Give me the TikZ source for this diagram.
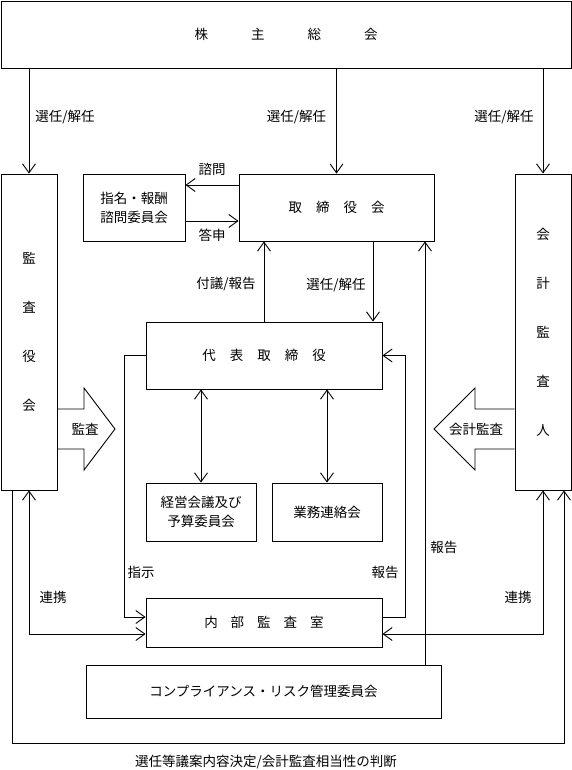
\documentclass[tikz,border=0pt]{standalone}
\usepackage{fontspec}
\setmainfont{Noto Sans CJK JP}
\usetikzlibrary{arrows.meta}

\tikzset{
  box/.style={draw, inner sep=0pt, align=center, font=\fontsize{13.5}{19}\selectfont},
  vbox/.style={box, minimum width=56pt, minimum height=316pt, font=\fontsize{13.5}{49}\selectfont},
  arr/.style={-{Straight Barb[length=9pt,width=13pt]}},
  darr/.style={{Straight Barb[length=9pt,width=13pt]}-{Straight Barb[length=9pt,width=13pt]}},
  lbl/.style={inner sep=0pt, font=\fontsize{13.5}{19}\selectfont},
}

\begin{document}
\begin{tikzpicture}[x=1pt,y=-1pt,line width=0.9pt]
	\useasboundingbox (0,0) rectangle (572,770);
	
	\node[box, minimum width=570pt, minimum height=67pt] (gm) at (286,34.5) {株\hspace{43pt}主\hspace{43pt}総\hspace{43pt}会};
	
	\node[vbox] (kansa) at (29,332) {監\\査\\役\\会};
	\node[vbox] (kaikei) at (543,332) {会\\計\\監\\査\\人};
	
	\node[box, minimum width=102pt, minimum height=67pt] (shimei) at (134,207.5) {指名・報酬\\諮問委員会};
	\node[box, minimum width=195pt, minimum height=67pt] (board) at (336.5,207.5) {取\hspace{14pt}締\hspace{14pt}役\hspace{14pt}会};
	
	\node[box, minimum width=236pt, minimum height=67pt] (ceo) at (264,355.5) {代\hspace{14pt}表\hspace{14pt}取\hspace{14pt}締\hspace{14pt}役};
	
	\node[box, minimum width=110pt, minimum height=58pt] (keiei) at (201,512) {経営会議及び\\予算委員会};
	\node[box, minimum width=110pt, minimum height=58pt] (gyomu) at (327,512) {業務連絡会};
	
	\node[box, minimum width=236pt, minimum height=49pt] (naibu) at (264,622.5) {内\hspace{13pt}部\hspace{13pt}監\hspace{13pt}査\hspace{13pt}室};
	\node[box, minimum width=355pt, minimum height=53pt] (comp) at (263.5,691.5) {コンプライアンス・リスク管理委員会};
	
	\draw[arr] (kansa.north |- gm.south) -- node[lbl, pos=0.46, right=6pt] {選任/解任} (kansa.north);
	\draw[arr] (board.north |- gm.south) -- node[lbl, pos=0.46, left=10pt] {選任/解任} (board.north);
	\draw[arr] (kaikei.north |- gm.south) -- node[lbl, pos=0.46, left=9pt] {選任/解任} (kaikei.north);
	
	\draw[arr] (board.west |- 0,185) -- node[lbl, above=9pt] {諮問} (shimei.east |- 0,185);
	\draw[arr] (shimei.east |- 0,221) -- node[lbl, below=8pt] {答申} (board.west |- 0,221);
	
	\draw[arr] (ceo.north) -- node[lbl, pos=0.47, left=8pt] {付議/報告} (ceo.north |- board.south);
	\draw[arr] (board.south -| 373,0) -- node[lbl, pos=0.54, left=7pt] {選任/解任} (ceo.north -| 373,0);
	\draw[arr] (comp.north -| 425,0) -- node[lbl, pos=0.276, right=5pt] {報告} (board.south -| 425,0);
	
	\draw[darr] (ceo.south -| keiei.north) -- (keiei.north);
	\draw[darr] (ceo.south -| gyomu.north) -- (gyomu.north);
	
	\draw[arr] (ceo.west) -- (124,355.5) -- (124,617) -- (naibu.west |- 0,617);
	\draw[arr] (naibu.east |- 0,617) -- (405,617) -- (405,355.5) -- (ceo.east);
	\node[lbl] (shiji) at (141,572) {指示};
	\node[lbl] (hokoku) at (385,572) {報告};
	
	\draw[darr] (kansa.south) |- (naibu.west |- 0,634);
	\draw[darr] (kaikei.south) |- (naibu.east |- 0,634);
	\node[lbl] (renkeiL) at (53,597) {連携};
	\node[lbl] (renkeiR) at (518,597) {連携};
	
	\draw[arr] (kansa.south -| 12,0) -- (12,743) -- (564,743) -- (kaikei.south -| 564,0);
	\node[lbl] (judge) at (266,762) {選任等議案内容決定/会計監査相当性の判断};
	
	\draw (kansa.east |- 0,409) -- (84,409) -- (84,388) -- (115,429) -- (84,470) -- (84,449) -- (kansa.east |- 0,449);
	\node[lbl] (audit) at (85,429) {監査};
	\draw (kaikei.west |- 0,409) -- (475,409) -- (475,388) -- (434,429) -- (475,470) -- (475,449) -- (kaikei.west |- 0,449);
	\node[lbl] (kaudit) at (476,429) {会計監査};
\end{tikzpicture}
\end{document}
